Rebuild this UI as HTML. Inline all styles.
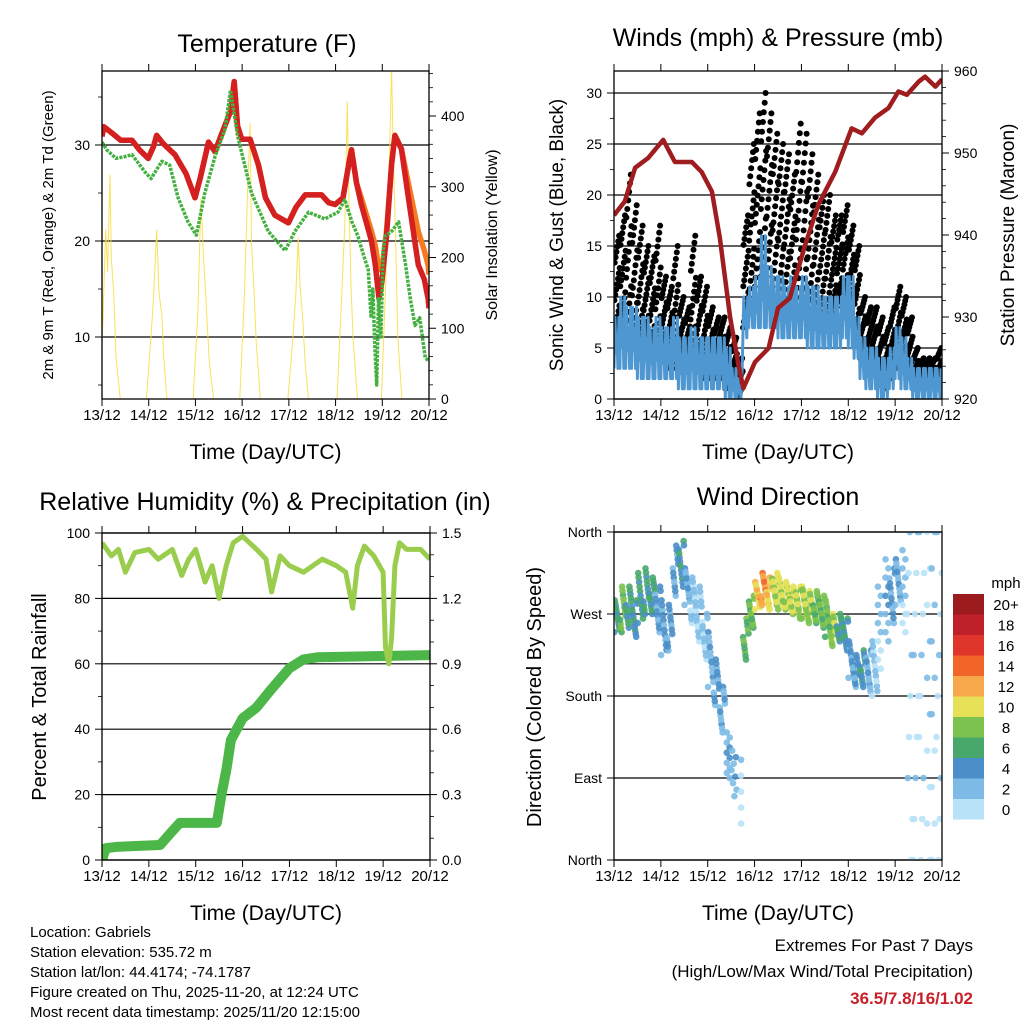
<!DOCTYPE html>
<html><head><meta charset="utf-8"><style>
html,body{margin:0;padding:0;background:#fff}
svg text{font-family:"Liberation Sans",Arial,sans-serif;fill:#000}
</style></head><body>
<svg id="c" width="1024" height="1024" viewBox="0 0 1024 1024" xmlns="http://www.w3.org/2000/svg">
<defs>
<clipPath id="cp1"><rect x="102" y="71" width="327" height="328"/></clipPath>
<clipPath id="cp2"><rect x="614" y="71" width="328" height="328"/></clipPath>
<clipPath id="cp3"><rect x="102" y="533" width="328" height="327"/></clipPath>
<clipPath id="cp4"><rect x="614" y="532" width="328" height="328"/></clipPath>
</defs>
</svg>
<script>
// ---------- data ----------
const dayLabels = ["13/12","14/12","15/12","16/12","17/12","18/12","19/12","20/12"];
const redT = [0,0.04,0.2,0.4,0.64,0.8,0.99,1.1,1.17,1.3,1.56,1.8,1.99,2.1,2.28,2.42,2.55,2.63,2.75,2.83,2.9,2.99,3.17,3.35,3.5,3.7,3.99,4.15,4.35,4.7,4.85,4.99,5.16,5.3,5.34,5.45,5.55,5.77,5.85,5.93,5.99,6.09,6.2,6.27,6.41,6.56,6.77,6.9,6.98,7.0];
const redV = [30.9,31.9,31.3,30.5,30.5,29.5,28.6,29.8,31,30.2,29,27,24.5,26.5,30.3,29.3,31,32,33.5,36.6,32,30.6,30.6,27.9,24.5,22.7,21.9,23.5,24.8,24.8,24,23.8,24.5,28.5,29.5,26,23.8,20,17.5,14,15.7,20.5,28,31,29.6,24.5,17.5,16,14,13];
const orangeV = [30.9,31.9,31.3,30.5,30.5,29.5,28.6,29.8,31,30.2,29,27,24.5,26.5,30.3,29.3,31,32,33.5,36.6,32,30.6,30.6,27.9,24.5,22.7,21.9,23.5,24.8,24.8,24,23.8,24.5,28.5,29.5,26,24.5,21,19.5,17,17,21,28,31,29.6,26,21,19,17.5,16.5];
const greenT = [0,0.1,0.3,0.5,0.64,0.92,1.05,1.28,1.45,1.63,1.84,2.02,2.2,2.42,2.63,2.75,2.9,3.2,3.56,3.92,4.13,4.42,4.77,5.05,5.2,5.35,5.48,5.6,5.7,5.76,5.8,5.84,5.88,5.92,5.97,6.02,6.06,6.2,6.35,6.5,6.6,6.7,6.8,6.92,7.0];
const greenV = [30.3,29.5,28.6,28.8,29,27.2,26.5,28.3,27.9,24.5,22,20.6,25,28.8,31.6,35.7,31,25,21,19,21,23,22.3,23,24.3,22,20.5,18.5,17,12,15,9,5,14,10,19,20.5,21,22,17.5,14,11.2,12,7.8,7.5];
const solarT = [-0.05,0.02,0.08,0.12,0.17,0.2,0.25,0.3,0.39, 0.95,1.05,1.1,1.17,1.22,1.28,1.32,1.39, 1.95,2.05,2.12,2.17,2.2,2.25,2.3,2.39, 2.95,3.05,3.12,3.17,3.2,3.25,3.3,3.39, 3.98,4.08,4.15,4.2,4.24,4.3,4.35,4.42, 5.03,5.12,5.2,5.25,5.28,5.33,5.38,5.47, 5.98,6.07,6.15,6.2,6.23,6.28,6.33,6.42];
const solarV = [0,110,240,180,317,200,150,60,0, 0,90,140,239,150,120,60,0, 0,120,284,204,170,110,50,0, 0,150,300,390,220,160,80,0, 0,80,150,228,160,110,50,0, 0,130,250,420,300,160,80,0, 0,160,330,470,360,240,90,0];
const presT = [0,0.23,0.45,0.73,1.05,1.3,1.66,1.87,2.09,2.26,2.48,2.66,2.76,3.01,3.3,3.5,3.75,4.08,4.36,4.72,5.07,5.29,5.57,5.86,6.07,6.25,6.5,6.64,6.86,7.0];
const presV = [942.4,944.1,948.2,949.4,951.6,948.9,948.9,947.7,945.3,939.6,929.9,924.1,921.3,924.5,926.2,931.1,932.3,938.8,943.7,947.7,953,952.4,954.3,955.5,957.5,957.1,958.7,959.3,958.1,959];
const gustHi = [16,18,22,19,17,15,14,17, 12,11,15,10,9,16,12,11, 9,8,8,7,6,4,18,25, 28,30,28,26,25,24,22,27, 26,24,22,20,20,18,18,19, 17,15,10,9,9,8,7,9, 11,10,8,5,4,4,4,5];
const gustLo = [6,7,6,5,5,5,4,4, 4,3,3,3,3,3,3,2, 2,2,2,1,1,0,7,10, 11,12,12,11,10,10,9,9, 8,8,8,8,7,8,9,9, 8,6,4,3,3,2,1,2, 3,3,2,1,1,1,1,1];
const blueLo = [3,3,3,3,2,2,2,2, 2,2,2,1,1,1,1,1, 1,1,1,0,0,0,6,7, 7,7,7,7,6,6,6,6, 6,5,5,5,5,5,5,6, 5,4,2,1,1,0,0,1, 2,1,1,0,0,0,0,0];
const blueHi = [8,10,9,9,8,8,7,8, 7,7,8,6,6,7,6,6, 6,6,6,5,3,2,10,11, 12,16,13,12,12,11,12,11, 12,11,11,10,10,10,10,12, 12,8,6,5,5,4,4,5, 7,6,4,3,3,3,3,3];
const rhT = [0,0.2,0.35,0.5,0.7,1.0,1.2,1.5,1.7,1.85,2.0,2.2,2.35,2.5,2.65,2.8,3.0,3.3,3.5,3.62,3.8,4.0,4.3,4.5,4.7,5.0,5.2,5.35,5.45,5.6,5.8,6.0,6.05,6.12,6.18,6.25,6.35,6.5,6.8,7.0];
const rhV = [97,93,95,88,94,95,92,95,87,92,95,85,90,80,90,97,99,95,92,82,93,90,88,90,92,90,88,77,90,96,93,88,65,60,68,90,97,95,95,92];
const rainT = [0,0.08,0.3,1.24,1.45,1.66,2.45,2.55,2.66,2.75,3.0,3.3,3.6,4.0,4.3,4.6,7.0];
const rainV = [0,0.054,0.06,0.069,0.12,0.17,0.17,0.3,0.42,0.55,0.65,0.7,0.78,0.88,0.92,0.93,0.94];
const dirLo = [250,250,255,245,260,270,270,250, 225,230,290,300,280,260,240,220, 190,170,140,90,70,40,220,255, 275,280,275,280,275,275,270,265, 265,260,260,255,245,235,240,230, 200,190,190,185,180,210,240,260, 280,250,0,0,0,0,0,0];
const dirHi = [285,300,300,285,315,320,310,300, 285,280,345,350,320,310,300,270, 250,220,190,140,120,110,265,290, 305,315,310,315,310,305,300,300, 300,295,295,290,285,270,270,265, 240,225,230,230,240,300,330,320, 330,340,360,360,360,360,360,360];
const dirSpd = [6,8,6,5,6,6,6,4, 4,4,4,5,3,2,2,2, 3,4,3,3,3,1,7,8, 11,13,11,10,10,10,10,9, 9,9,8,8,8,9,6,5, 4,4,5,3,2,2,3,4, 3,2,1,1,1,1,2,1];
const dirCnt = [12,12,12,12,12,12,12,12, 12,12,12,12,12,12,12,12, 12,12,12,10,8,5,12,12, 12,12,12,12,12,12,12,12, 12,12,12,12,12,12,12,12, 12,12,12,12,12,10,10,12, 12,10,9,9,9,10,10,9];
const cbColors = ["#b8e2f7","#7dbbe6","#4a8fc8","#48a86c","#7bc24e","#e6e157","#f7a84a","#f26529","#e0352a","#c0202a","#9b1b1e"];
const cbLabels = ["0","2","4","6","8","10","12","14","16","18","20+"];
const tTicks = [10,20,30], solTicks = [0,100,200,300,400];
const wTicks = [0,5,10,15,20,25,30], pTicks = [920,930,940,950,960];
const rhTicks = [0,20,40,60,80,100], rainTicks = ["0.0","0.3","0.6","0.9","1.2","1.5"];
const dirTicks = [0,90,180,270,360], dirNames = ["North","East","South","West","North"];

// ---------- scales ----------
const xs1 = d => 102 + d*327/7, yT = v => 337 - (v-10)*9.6, ySol = v => 399 - v*0.7075;
const xs2 = d => 614 + d*328/7, yW = v => 399 - v*10.2, yP = p => 399 - (p-920)*8.2;
const xs3 = d => 102 + d*328/7, yRH = v => 860 - v*3.27, yRain = r => 860 - r/1.5*327;
const xs4 = xs2, yD = v => 860 - v/360*328;

const svg = document.getElementById('c');
const NS = 'http://www.w3.org/2000/svg';
function mk(tag, attrs, parent){const e=document.createElementNS(NS,tag);for(const k in attrs)e.setAttribute(k,attrs[k]);(parent||svg).appendChild(e);return e;}
function txt(s, x, y, size, anchor, parent){const t=mk('text',{x:x,y:y,'font-size':size,'text-anchor':anchor||'middle'},parent);t.textContent=s;return t;}
function pts(T,V,fx,fy){return T.map((t,i)=>fx(t).toFixed(1)+','+fy(V[i]).toFixed(1)).join(' ');}

function frame(x0,y0,x1,y1,xs,name){
  const g = mk('g',{});
  
  
  const r = mk('rect',{x:x0,y:y0,width:x1-x0,height:y1-y0,fill:'none',stroke:'#000','stroke-width':1.3},g);
  
  
  for(let d=0; d<dayLabels.length; d++){
    const x = xs(d);
    const tb = mk('line',{x1:x,x2:x,y1:y1,y2:y1+7,stroke:'#000','stroke-width':1},g);
    
    
    const tt = mk('line',{x1:x,x2:x,y1:y0,y2:y0-7,stroke:'#000','stroke-width':1},g);
    
    
    const l = txt(dayLabels[d], x, y1+21, 15, 'middle', g);
    
    
  }
  const xt = txt('Time (Day/UTC)', (x0+x1)/2, y1+60, 21, 'middle', g);
  
  
  return g;
}
function yAxis(vals, labels, fy, x, side, minorVals, grid, x0, x1, name){
  const g = mk('g',{});
  
  
  const dir = side==='left' ? -1 : 1;
  vals.forEach((v,i)=>{
    const y = fy(v);
    if(grid){
      const gl = mk('line',{x1:x0,x2:x1,y1:y,y2:y,stroke:'#000','stroke-width':1.2},g);
      
      
    }
    const t = mk('line',{x1:x,x2:x+dir*7,y1:y,y2:y,stroke:'#000','stroke-width':1},g);
    
    
    const l = txt(String(labels[i]), x+dir*12, y+5, 14, side==='left'?'end':'start', g);
    
    
  });
  (minorVals||[]).forEach(v=>{
    const y = fy(v);
    const t = mk('line',{x1:x,x2:x+dir*4,y1:y,y2:y,stroke:'#000','stroke-width':0.8},g);
    
    
  });
}
function vtitle(s, x, y, size, name){
  const t = mk('text',{x:x,y:y,'font-size':size,'text-anchor':'middle',transform:'rotate(-90 '+x+' '+y+')'});
  t.textContent = s;
  
  
}
function title(s,x,y,name){
  const t = txt(s,x,y,25,'middle');
  
  
}
function range(a,b,s){const r=[];for(let v=a;v<=b+1e-9;v+=s)r.push(+v.toFixed(3));return r;}

// ================= Panel 1 =================
title('Temperature (F)', 267, 52, 'temperature-title');
yAxis(tTicks, tTicks, yT, 102, 'left', [5,15,25,35], true, 102, 429, 'temperature-left-axis');
yAxis(solTicks, solTicks, ySol, 429, 'right', range(20,460,20).filter(v=>v%100), false, 0,0, 'solar-right-axis');
const g1 = mk('g',{'clip-path':'url(#cp1)'});


const sol = mk('polyline',{points:pts(solarT,solarV,xs1,ySol),fill:'none',stroke:'#f9dc3c','stroke-width':1,'stroke-opacity':0.85},g1);


const orl = mk('polyline',{points:pts(redT,orangeV,xs1,yT),fill:'none',stroke:'#f47b20','stroke-width':5.5,'stroke-linejoin':'round'},g1);


const rdl = mk('polyline',{points:pts(redT,redV,xs1,yT),fill:'none',stroke:'#d42020','stroke-width':5.5,'stroke-linejoin':'round'},g1);


const grl = mk('polyline',{points:pts(greenT,greenV,xs1,yT),fill:'none',stroke:'#44b040','stroke-width':3.5,'stroke-dasharray':'3 1.2','stroke-linejoin':'round'},g1);


frame(102,71,429,399,xs1,'temperature');
vtitle('2m & 9m T (Red, Orange) & 2m Td (Green)', 53, 235, 15, 'temperature-y-axis-title');
vtitle('Solar Insolation (Yellow)', 497, 235, 16, 'solar-y-axis-title');

// ================= Panel 2 =================
title('Winds (mph) & Pressure (mb)', 778, 46, 'winds-title');
yAxis(wTicks, wTicks, yW, 614, 'left', [2.5,7.5,12.5,17.5,22.5,27.5], true, 614, 942, 'wind-left-axis');
yAxis(pTicks, pTicks, yP, 942, 'right', range(922,958,2).filter(v=>v%10), false,0,0, 'pressure-right-axis');
const g2 = mk('g',{'clip-path':'url(#cp2)'});


for(let i=0;i<gustHi.length;i++){
  const n = 20;
  for(let k=0;k<n;k++){
    const f = ((k*7)%n)/(n-1);
    const v = gustLo[i] + (gustHi[i]-gustLo[i])*f;
    const c = mk('circle',{cx:xs2(i/8 + (k+0.5)/n/8).toFixed(1), cy:yW(v).toFixed(1), r:3, fill:'#000'},g2);
    
    
  }
}
let bp = [];
for(let i=0;i<blueHi.length;i++){
  for(let k=0;k<6;k++){
    const v = (k%2===0) ? blueLo[i] + (blueHi[i]-blueLo[i])*(k===2?0.3:0) : blueHi[i] - (blueHi[i]-blueLo[i])*(k===3?0.35:0);
    bp.push(xs2(i/8 + k/6/8).toFixed(1)+','+yW(v).toFixed(1));
  }
}
const bl = mk('polyline',{points:bp.join(' '),fill:'none',stroke:'#4f97d1','stroke-width':3,'stroke-linejoin':'round'},g2);


const pl = mk('polyline',{points:pts(presT,presV,xs2,yP),fill:'none',stroke:'#a01d1f','stroke-width':4.5,'stroke-linejoin':'round'},g2);


frame(614,71,942,399,xs2,'winds');
vtitle('Sonic Wind & Gust (Blue, Black)', 563, 235, 19, 'wind-y-axis-title');
vtitle('Station Pressure (Maroon)', 1014, 235, 19, 'pressure-y-axis-title');

// ================= Panel 3 =================
title('Relative Humidity (%) & Precipitation (in)', 265, 510, 'humidity-title');
yAxis(rhTicks, rhTicks, yRH, 102, 'left', [10,30,50,70,90], true, 102, 430, 'humidity-left-axis');
yAxis(rainTicks.map(Number), rainTicks, yRain, 430, 'right', [0.1,0.2,0.4,0.5,0.7,0.8,1.0,1.1,1.3,1.4], false,0,0, 'rain-right-axis');
const g3 = mk('g',{'clip-path':'url(#cp3)'});


const rl = mk('polyline',{points:pts(rainT,rainV,xs3,yRain),fill:'none',stroke:'#4cb748','stroke-width':10,'stroke-linejoin':'round','stroke-linecap':'round'},g3);


const hl = mk('polyline',{points:pts(rhT,rhV,xs3,yRH),fill:'none',stroke:'#9acd4e','stroke-width':5,'stroke-linejoin':'round'},g3);


frame(102,533,430,860,xs3,'humidity');
vtitle('Percent & Total Rainfall', 46, 697, 20, 'humidity-y-axis-title');

// ================= Panel 4 =================
title('Wind Direction', 778, 505, 'direction-title');
yAxis(dirTicks, dirNames, yD, 614, 'left', [], true, 614, 942, 'direction-left-axis');
const g4 = mk('g',{'clip-path':'url(#cp4)'});


for(let i=0;i<dirLo.length;i++){
  const n = dirCnt[i];
  for(let k=0;k<n;k++){
    const f = ((k*7)%n)/(n-1);
    const xf = ((k*5+i*3)%n + 0.5)/n;
    const v = dirLo[i] + (dirHi[i]-dirLo[i])*f;
    const s = Math.max(0, dirSpd[i] + ((k%3)-1));
    const ci = Math.min(10, Math.floor(s/2));
    const c = mk('circle',{cx:xs4(i/8 + xf/8).toFixed(1), cy:yD(v).toFixed(1), r:3.3, fill:cbColors[ci], 'fill-opacity':0.9},g4);
    
    
  }
}
frame(614,532,942,860,xs4,'direction');
vtitle('Direction (Colored By Speed)', 541, 697, 20, 'direction-y-axis-title');

const cb = mk('g',{});


const mph = txt('mph', 1006, 588, 15, 'middle', cb);


for(let i=0;i<cbColors.length;i++){
  const y = 594 + (10-i)*20.5;
  const r = mk('rect',{x:953,y:y,width:31,height:20.5,fill:cbColors[i]},cb);
  
  
  const l = txt(cbLabels[i], 1006, y+16, 15, 'middle', cb);
  
  
}

const info = ["Location: Gabriels","Station elevation: 535.72 m","Station lat/lon: 44.4174; -74.1787","Figure created on Thu, 2025-11-20, at 12:24 UTC","Most recent data timestamp: 2025/11/20 12:15:00"];
info.forEach((s,i)=>{
  const t = txt(s, 30, 937+i*20, 15, 'start');
  
  
});
const e1 = txt('Extremes For Past 7 Days', 973, 951, 17, 'end');


const e2 = txt('(High/Low/Max Wind/Total Precipitation)', 973, 977, 17, 'end');


const e3 = txt('36.5/7.8/16/1.02', 973, 1004, 17, 'end');
e3.setAttribute('font-weight','bold');
e3.setAttribute('style','fill:#c8202a');


</script>
</body></html>
